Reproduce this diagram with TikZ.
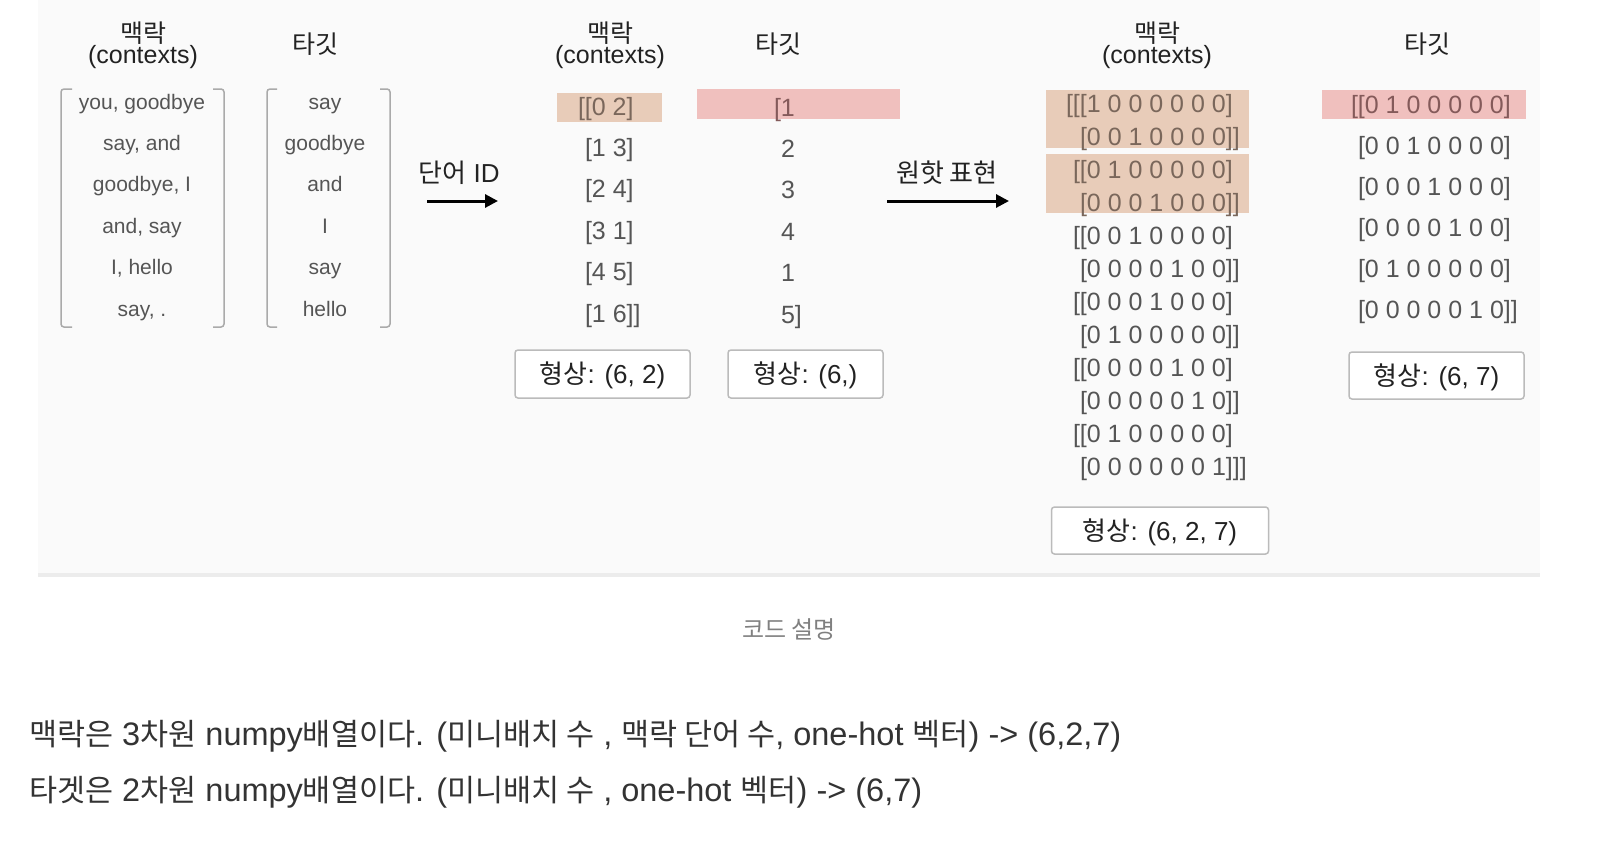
\documentclass[tikz,border=0pt]{standalone}
\usepackage{fontspec}
\setmainfont{Liberation Sans}
\newfontfamily\kr{Noto Sans CJK KR}
\newcommand\krbody[1]{{\kr\fontsize{30.5}{36}\selectfont #1}}
\usetikzlibrary{arrows.meta}
\definecolor{bgc}{HTML}{FAFAFA}
\definecolor{linec}{HTML}{ECECEC}
\definecolor{txtgray}{HTML}{555555}
\definecolor{txtdark}{HTML}{222222}
\definecolor{hlo}{HTML}{E8CCB9}
\definecolor{hlp}{HTML}{F0C0BE}
\definecolor{onhlo}{HTML}{7A675B}
\definecolor{onhlp}{HTML}{845A5A}
\definecolor{brk}{HTML}{AAAAAA}
\definecolor{boxc}{HTML}{BBBBBB}
\definecolor{capgray}{HTML}{808080}
\definecolor{bodyc}{HTML}{333333}
\tikzset{
  every node/.style={inner sep=0pt, outer sep=0pt},
  hdr/.style={font=\fontsize{25}{30}\selectfont, text=txtdark, anchor=base},
  word/.style={font=\fontsize{21}{25}\selectfont, text=txtgray, anchor=base},
  num/.style={font=\fontsize{25}{30}\selectfont, text=txtgray, anchor=base west},
  shapebox/.style={draw=boxc, line width=1.5pt, rounded corners=3pt, fill=white,
    font=\fontsize{26}{30}\selectfont, text=txtdark, text height=24pt, text depth=5pt},
  bracket/.style={draw=brk, line width=1.5pt, rounded corners=3pt},
  arr/.style={line width=3pt, -{Triangle[length=13pt,width=13pt]}, black},
  albl/.style={font=\fontsize{26}{30}\selectfont, text=txtdark, anchor=base},
  body/.style={font=\fontsize{32.5}{38}\selectfont, text=bodyc, anchor=base west}
}
\begin{document}
\begin{tikzpicture}[x=1pt,y=-1pt]
\useasboundingbox (0,0) rectangle (1598,846);
% background panel
\fill[bgc] (38,0) rectangle (1540,574);
\fill[linec] (38,573) rectangle (1540,577);

% ---------- left section ----------
\node[hdr] (h1a) at (143,42) {\kr 맥락};
\node[hdr] (h1b) at (143,63) {(contexts)};
\node[hdr] (h1c) at (315,53) {\kr 타깃};
\draw[bracket] (72,89) -- (61,89) -- (61,327) -- (72,327);
\draw[bracket] (213,89) -- (224,89) -- (224,327) -- (213,327);
\draw[bracket] (277,89) -- (267,89) -- (267,327) -- (277,327);
\draw[bracket] (380,89) -- (390,89) -- (390,327) -- (380,327);
\foreach \t [count=\i from 0] in {{you, goodbye},{say, and},{goodbye, I},{and, say},{I, hello},{say, .}}
  \node[word] (w\i) at (142,{109+41.4*\i}) {\t};
\foreach \t [count=\i from 0] in {say,goodbye,and,I,say,hello}
  \node[word] (t\i) at (325,{109+41.4*\i}) {\t};

% arrow 1
\coordinate (a1s) at (427,201);
\coordinate (a1e) at (498,201);
\draw[arr] (a1s) -- (a1e);
\node[albl] (l1) at (459,182) {{\kr 단어} ID};

% ---------- middle section ----------
\node[hdr] (h2a) at (610,42) {\kr 맥락};
\node[hdr] (h2b) at (610,63) {(contexts)};
\node[hdr] (h2c) at (778,53) {\kr 타깃};
\fill[hlo] (557,93) rectangle (662,122);
\fill[hlp] (697,89) rectangle (900,119);
\node[num, text=onhlo] (c0) at (578,115) {[[0 2]};
\foreach \t [count=\i from 1] in {[1 3],[2 4],[3 1],[4 5],[1 6]]}
  \node[num] (c\i) at (585,{115+41.4*\i}) {\t};
\node[num, text=onhlp] (d0) at (774,116) {[1};
\foreach \t [count=\i from 1] in {2,3,4,1,5]}
  \node[num] (d\i) at (781,{116+41.4*\i}) {\t};
\node[shapebox, minimum width=175pt, minimum height=48pt] (b1) at (602.5,374) {{\kr 형상}: (6, 2)};
\node[shapebox, minimum width=155pt, minimum height=48pt] (b2) at (805.5,374) {{\kr 형상}: (6,)};

% arrow 2
\coordinate (a2s) at (887,201);
\coordinate (a2e) at (1009,201);
\draw[arr] (a2s) -- (a2e);
\node[albl] (l2) at (947,182) {\kr 원핫 표현};

% ---------- right section ----------
\node[hdr] (h3a) at (1157,42) {\kr 맥락};
\node[hdr] (h3b) at (1157,63) {(contexts)};
\node[hdr] (h3c) at (1427,53) {\kr 타깃};
\fill[hlo] (1046,90) rectangle (1249,148);
\fill[hlo] (1046,154) rectangle (1249,213);
\fill[hlp] (1322,90) rectangle (1526,119);
\node[num, text=onhlo] (r0) at (1066,112) {[[[1 0 0 0 0 0 0]};
\node[num, text=onhlo] (r1) at (1080,145) {[0 0 1 0 0 0 0]]};
\node[num, text=onhlo] (r2) at (1073,178) {[[0 1 0 0 0 0 0]};
\node[num, text=onhlo] (r3) at (1080,211) {[0 0 0 1 0 0 0]]};
\node[num] (r4) at (1073,244) {[[0 0 1 0 0 0 0]};
\node[num] (r5) at (1080,277) {[0 0 0 0 1 0 0]]};
\node[num] (r6) at (1073,310) {[[0 0 0 1 0 0 0]};
\node[num] (r7) at (1080,343) {[0 1 0 0 0 0 0]]};
\node[num] (r8) at (1073,376) {[[0 0 0 0 1 0 0]};
\node[num] (r9) at (1080,409) {[0 0 0 0 0 1 0]]};
\node[num] (r10) at (1073,442) {[[0 1 0 0 0 0 0]};
\node[num] (r11) at (1080,475) {[0 0 0 0 0 0 1]]]};
\node[shapebox, minimum width=217pt, minimum height=47pt] (b3) at (1160,530.5) {{\kr 형상}: (6, 2, 7)};

\node[num, text=onhlp] (s0) at (1351,113) {[[0 1 0 0 0 0 0]};
\node[num] (s1) at (1358,154) {[0 0 1 0 0 0 0]};
\node[num] (s2) at (1358,195) {[0 0 0 1 0 0 0]};
\node[num] (s3) at (1358,236) {[0 0 0 0 1 0 0]};
\node[num] (s4) at (1358,277) {[0 1 0 0 0 0 0]};
\node[num] (s5) at (1358,318) {[0 0 0 0 0 1 0]]};
\node[shapebox, minimum width=175pt, minimum height=47pt] (b4) at (1436.5,375.5) {{\kr 형상}: (6, 7)};

% ---------- caption and body text ----------
\node[anchor=base, font=\fontsize{24}{28}\selectfont, text=capgray] (cap) at (789,638) {\kr 코드 설명};
\node[body] (p1) at (29,745) {\krbody{맥락은} 3\krbody{차원} numpy\krbody{배열이다}. (\krbody{미니배치 수} , \krbody{맥락 단어 수}, one-hot \krbody{벡터}) -> (6,2,7)};
\node[body] (p2) at (29,801) {\krbody{타겟은} 2\krbody{차원} numpy\krbody{배열이다}. (\krbody{미니배치 수} , one-hot \krbody{벡터}) -> (6,7)};
\end{tikzpicture}
\end{document}
